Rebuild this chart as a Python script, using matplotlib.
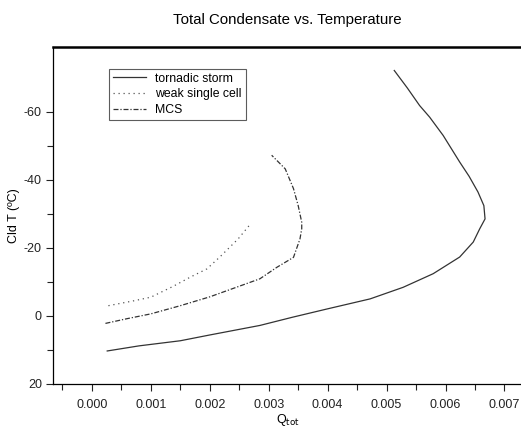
import numpy as np
import matplotlib
matplotlib.use("Agg")
from matplotlib import pyplot as plt
from matplotlib.ticker import MultipleLocator, FixedLocator, FormatStrFormatter

plt.rcParams['font.family'] = ['Liberation Sans', 'DejaVu Sans']
plt.rcParams['axes.unicode_minus'] = False

# tornadic storm (Qtot, cloud temperature in C)
tor_q = [0.00026, 0.0008, 0.0015, 0.0020, 0.00285, 0.00340, 0.00398, 0.00472, 0.00528,
         0.00579, 0.00624, 0.00647, 0.00658, 0.00667, 0.00665, 0.00655, 0.00640,
         0.00624, 0.00596, 0.00573, 0.00556, 0.00535, 0.00513]
tor_t = [10.3, 8.8, 7.3, 5.6, 2.8, 0.4, -2.0, -5.0, -8.4,
         -12.4, -17.3, -21.7, -25.6, -28.5, -32.4, -36.4, -41.0,
         -45.2, -53.0, -58.4, -61.8, -67.0, -72.1]

# weak single cell
weak_q = [0.00028, 0.0007, 0.0010, 0.00138, 0.00167, 0.00195, 0.00217, 0.00248, 0.00269]
weak_t = [-3.0, -4.4, -5.5, -8.7, -11.4, -13.8, -17.3, -22.6, -27.0]

# MCS
mcs_q = [0.00023, 0.0006, 0.0010, 0.0015, 0.0020, 0.00285, 0.00314, 0.00342, 0.00353,
         0.00356, 0.00356, 0.00350, 0.00342, 0.00328, 0.00305]
mcs_t = [2.2, 0.8, -0.6, -3.0, -5.6, -10.9, -14.3, -17.2, -22.6,
         -25.6, -27.5, -32.4, -37.4, -43.2, -47.2]

fig = plt.figure(figsize=(5.21, 4.30), dpi=100)
ax = fig.add_axes([0.1017, 0.107, 0.8983, 0.7837])

ax.plot(tor_q, tor_t, color='#333333', lw=0.9, ls='-', label='tornadic storm')
ax.plot(weak_q, weak_t, color='#555555', lw=0.9, ls=(0, (1, 3)), label='weak single cell')
ax.plot(mcs_q, mcs_t, color='#333333', lw=0.9, ls=(0, (4, 1.5, 1, 1.5)), label='MCS')

ax.set_xlim(-0.00066, 0.00728)
ax.set_ylim(20, -79)

ax.xaxis.set_major_locator(MultipleLocator(0.001))
ax.xaxis.set_minor_locator(MultipleLocator(0.0005))
ax.xaxis.set_major_formatter(FormatStrFormatter('%.3f'))
ax.yaxis.set_major_locator(MultipleLocator(20))
ax.yaxis.set_minor_locator(FixedLocator([-50, -30, -10, 10]))

ax.tick_params(which='both', direction='out', labelsize=9, width=0.8, colors='#222222')
ax.tick_params(which='major', length=5)
ax.tick_params(which='minor', length=4)
ax.tick_params(axis='x', which='major', pad=6)
ax.tick_params(axis='y', which='major', pad=3)

ax.spines['right'].set_visible(False)
ax.spines['top'].set_linewidth(1.8)
for s in ['left', 'bottom']:
    ax.spines[s].set_linewidth(0.9)

ax.set_xlabel('Q$_{\\mathrm{tot}}$', fontsize=9)
ax.set_ylabel('Cld T (ºC)', fontsize=9)
ax.xaxis.set_label_coords(0.503, -0.082)
ax.yaxis.set_label_coords(-0.07, 0.5)
fig.text(0.551, 0.953, 'Total Condensate vs. Temperature', ha='center', va='center', fontsize=10.8)

leg = ax.legend(loc='upper left', bbox_to_anchor=(0.1195, 0.935), fontsize=8.8, frameon=True,
                fancybox=False, edgecolor='#333333', handlelength=2.7, borderpad=0.3,
                labelspacing=0.3, handletextpad=0.8, borderaxespad=0)
leg.get_frame().set_linewidth(0.8)

fig.savefig('out.png', dpi=100)
plt.close(fig)
